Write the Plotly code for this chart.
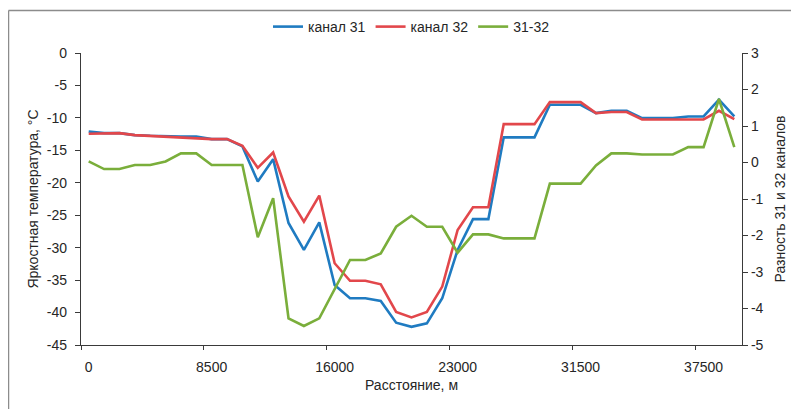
import plotly.graph_objects as go

# ---- data ----
distance_tick_labels = ["0", "8500", "16000", "23000", "31500", "37500"]
label_every = 8  # one distance label every 8 measurement points

temp_ticks = [0, -5, -10, -15, -20, -25, -30, -35, -40, -45]
diff_ticks = [3, 2, 1, 0, -1, -2, -3, -4, -5]

channel31 = [-12.1, -12.35, -12.35, -12.65, -12.76, -12.87, -12.87, -12.87, -13.27, -13.27,
             -14.4, -19.8, -16.36, -26.2, -30.35, -26.1, -35.76, -37.8, -37.8, -38.2,
             -41.57, -42.2, -41.67, -37.8, -30.35, -25.6, -25.6, -13.0, -13.0, -13.0,
             -7.98, -7.98, -7.98, -9.26, -8.9, -8.9, -10.03, -10.03, -10.03, -9.78,
             -9.78, -7.2, -9.78]
channel32 = [-12.45, -12.35, -12.35, -12.65, -12.76, -12.97, -13.07, -13.17, -13.27, -13.27,
             -14.3, -17.7, -15.33, -22.1, -26.0, -21.97, -32.4, -35.1, -35.1, -35.65,
             -39.9, -40.75, -39.9, -36.0, -27.27, -23.77, -23.77, -10.96, -10.96, -10.96,
             -7.57, -7.57, -7.57, -9.26, -9.1, -9.1, -10.24, -10.24, -10.24, -10.24,
             -10.24, -8.9, -10.2]
diff31_32 = [0.03, -0.18, -0.18, -0.07, -0.07, 0.03, 0.25, 0.25, -0.07, -0.07,
             -0.07, -2.05, -0.98, -4.27, -4.48, -4.27, -3.49, -2.67, -2.67, -2.49,
             -1.76, -1.46, -1.76, -1.76, -2.47, -1.97, -1.97, -2.08, -2.08, -2.08,
             -0.58, -0.58, -0.58, -0.08, 0.25, 0.25, 0.22, 0.22, 0.22, 0.42,
             0.42, 1.74, 0.42]

n = len(channel31)
x_idx = list(range(n))
label_pos = [i * label_every for i in range(len(distance_tick_labels))]
boundary_pos = [p - 0.5 for p in label_pos]

FONT = "Liberation Sans, Arial, sans-serif"
AX = "#3a3a3a"
TXT = "#262626"

fig = go.Figure()
fig.add_trace(go.Scatter(x=x_idx, y=channel31, name="канал 31", mode="lines",
                         line=dict(color="#1f7bc1", width=2.6)))
fig.add_trace(go.Scatter(x=x_idx, y=channel32, name="канал 32", mode="lines",
                         line=dict(color="#e2474b", width=2.6)))
fig.add_trace(go.Scatter(x=x_idx, y=diff31_32, name="31-32", mode="lines", yaxis="y2",
                         line=dict(color="#7aae3b", width=2.6)))
# helper trace for the tick-mark axis (invisible)
fig.add_trace(go.Scatter(x=[x_idx[0]], y=[channel31[0]], xaxis="x2", mode="markers",
                         marker=dict(opacity=0), showlegend=False, hoverinfo="skip"))

# the page body has an 8px margin, so the figure is 8px smaller and shifted
OFF = 8
W, H = 799 - OFF, 409 - OFF
L, R, T, B = 81 - OFF, 57, 53 - OFF, 64
pw, ph = W - L - R, H - T - B
def px(xp):
    return (xp - OFF - L) / pw
def py(yp):
    return (H - B - (yp - OFF)) / ph

fig.update_layout(
    width=W, height=H,
    margin=dict(l=L, r=R, t=T, b=B, autoexpand=False),
    paper_bgcolor="white", plot_bgcolor="white",
    font=dict(family=FONT, size=14, color=TXT),
    showlegend=True,
    legend=dict(orientation="h", x=0.5, xanchor="center", yref="container",
                y=1 - (27 - OFF) / H, yanchor="middle",
                font=dict(size=14, color=TXT), itemwidth=30, tracegroupgap=0,
                bgcolor="rgba(0,0,0,0)"),
    xaxis=dict(range=[-0.5, n - 0.5], tickmode="array", tickvals=label_pos,
               ticktext=distance_tick_labels, ticks="", showgrid=False, zeroline=False,
               showline=True, linecolor=AX, linewidth=1.3, automargin=False,
               tickfont=dict(size=14, color=TXT), ticklabelstandoff=9,
               title=dict(text="Расстояние, м", font=dict(size=14, color=TXT), standoff=6)),
    xaxis2=dict(overlaying="x", matches="x", anchor="y", side="bottom",
                tickmode="array", tickvals=boundary_pos, ticks="outside", ticklen=4,
                tickcolor=AX, tickwidth=1.3, showticklabels=False, showgrid=False,
                zeroline=False, showline=False, automargin=False),
    yaxis=dict(range=[-45, 0], tickmode="array", tickvals=temp_ticks,
               ticktext=[str(v) for v in temp_ticks], ticks="outside", ticklen=5,
               tickcolor=AX, tickwidth=1.3, showgrid=False, zeroline=False,
               showline=True, linecolor=AX, linewidth=1.3, automargin=False,
               tickfont=dict(size=14, color=TXT), ticklabelstandoff=5,
               title=dict(text="Яркостная температура, °С", font=dict(size=14, color=TXT),
                          standoff=4)),
    yaxis2=dict(range=[-5, 3], tickmode="array", tickvals=diff_ticks,
                ticktext=[str(v) for v in diff_ticks], overlaying="y", side="right",
                anchor="x", ticks="outside", ticklen=5, tickcolor=AX, tickwidth=1.3,
                showgrid=False, zeroline=False, showline=True, linecolor=AX,
                linewidth=1.3, automargin=False,
                tickfont=dict(size=14, color=TXT), ticklabelstandoff=0,
                title=dict(text="Разность 31 и 32 каналов", font=dict(size=14, color=TXT),
                           standoff=12)),
)

# outer frame (top and left edges visible in the reference)
fig.add_shape(type="line", xref="paper", yref="paper", x0=px(8.5), x1=px(810), y0=py(10.5), y1=py(10.5),
              line=dict(color="#8c8c8c", width=1.5), layer="above")
fig.add_shape(type="line", xref="paper", yref="paper", x0=px(8.5), x1=px(8.5), y0=py(10.5), y1=py(420),
              line=dict(color="#8c8c8c", width=1.5), layer="above")

fig.write_html("out.html")
